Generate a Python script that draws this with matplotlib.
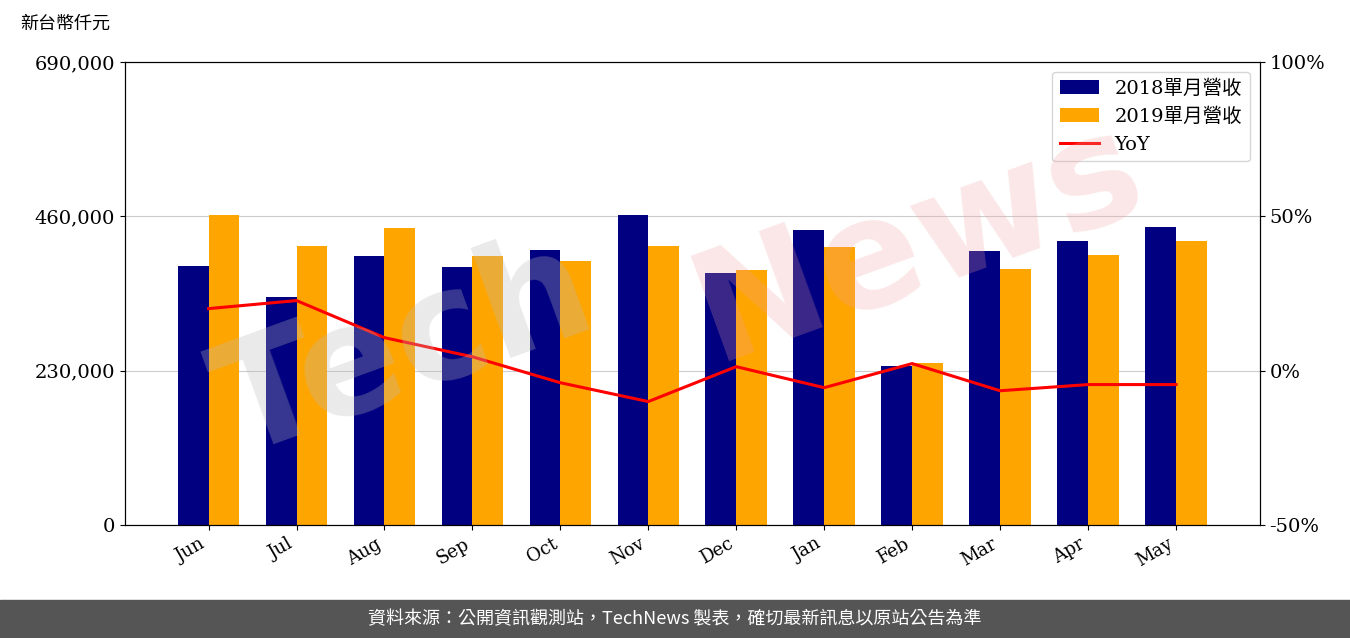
import matplotlib.pyplot as plt
import numpy as np

plt.rcParams['font.family'] = ['DejaVu Serif', 'Noto Sans CJK TC']

months = ["Jun", "Jul", "Aug", "Sep", "Oct", "Nov", "Dec", "Jan", "Feb", "Mar", "Apr", "May"]
rev_2018 = [386000, 339800, 400900, 384500, 409800, 462000, 375600, 439600, 237000, 408300, 423200, 444100]
rev_2019 = [462000, 415800, 442600, 400900, 393400, 415800, 380000, 414300, 241400, 381500, 402400, 423200]
yoy = [20.1, 22.7, 10.7, 4.5, -3.9, -10.0, 1.3, -5.5, 2.3, -6.5, -4.5, -4.5]

fig = plt.figure(figsize=(13.5, 6.38), dpi=100)
ax = fig.add_axes([0.0926, 0.177, 0.8404, 0.726])
x = np.arange(len(months))
w = 0.35
ax.bar(x - w / 2, rev_2018, w, color="#000080", label="2018單月營收", zorder=2)
ax.bar(x + w / 2, rev_2019, w, color="#FFA500", label="2019單月營收", zorder=2)
ax.set_ylim(0, 690000)
ax.set_yticks([0, 230000, 460000, 690000])
ax.set_yticklabels(["0", "230,000", "460,000", "690,000"], fontsize=14)
ax.grid(axis="y", color="#cccccc", zorder=0)
ax.set_xticks(x)
ax.set_xticklabels(months, rotation=30, ha="right", fontsize=13)
ax.set_xlim(-0.95, 11.95)

ax2 = ax.twinx()
ax2.plot(x, yoy, color="red", lw=2.2, label="YoY")
ax2.set_ylim(-50, 100)
ax2.set_yticks([-50, 0, 50, 100])
ax2.set_yticklabels(["-50%", "0%", "50%", "100%"], fontsize=14)

h1, l1 = ax.get_legend_handles_labels()
h2, l2 = ax2.get_legend_handles_labels()
ax2.legend(h1 + h2, l1 + l2, loc="upper right", fontsize=14)

fig.text(0.3, 0.45, "Tech", fontsize=110, color="#bbbbbb", alpha=0.3, rotation=20,
         ha="center", va="center", fontweight="bold", family="DejaVu Sans")
fig.text(0.68, 0.62, "News", fontsize=110, color="#f0a0a0", alpha=0.25, rotation=20,
         ha="center", va="center", fontweight="bold", family="DejaVu Sans")

fig.text(0.015, 0.955, "新台幣仟元", fontsize=13, family=["Noto Sans CJK TC"])
fig.patches.append(plt.Rectangle((0, 0), 1, 0.06, transform=fig.transFigure,
                                 color="#555555", zorder=0))
fig.text(0.5, 0.03, "資料來源：公開資訊觀測站，TechNews 製表，確切最新訊息以原站公告為準",
         color="white", fontsize=13, ha="center", va="center", family=["Noto Sans CJK TC"])

fig.savefig("out.png", dpi=100)
